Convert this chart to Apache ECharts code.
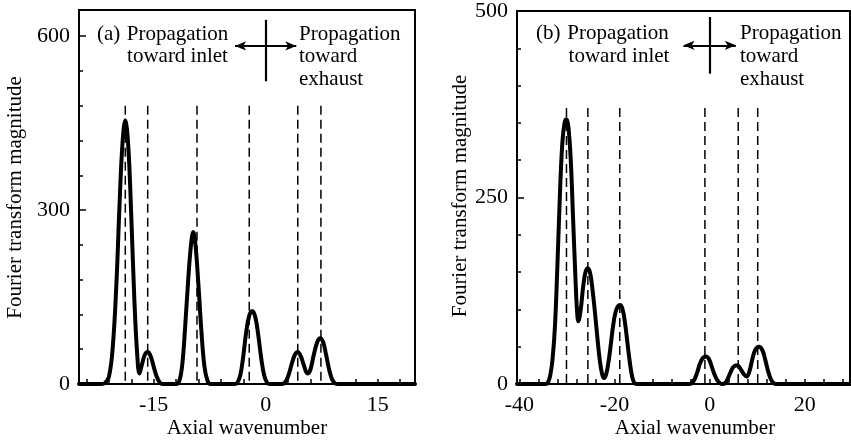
<!DOCTYPE html>
<html><head><meta charset="utf-8">
<script src="https://cdn.jsdelivr.net/npm/echarts@6/dist/echarts.min.js"></script>
<style>html,body{margin:0;padding:0;background:#fff}#c{width:851px;height:446px}</style>
</head><body><div id="c"></div>
<script>
// ---------- data ----------
const curveA = [
[-25,0],[-22,0],[-21.5,2],[-21,12],[-20.5,60],[-20,170],[-19.6,300],[-19.2,410],[-18.8,455],[-18.4,410],[-18,290],[-17.6,150],[-17.2,50],[-16.9,18],[-16.6,32],[-16.2,50],[-15.8,55],[-15.4,48],[-15,30],[-14.6,13],[-14.2,3],[-13.8,0],
[-12,0],[-11.6,4],[-11.2,30],[-10.8,95],[-10.4,175],[-10,240],[-9.7,262],[-9.4,240],[-9,170],[-8.6,90],[-8.2,30],[-7.8,6],[-7.4,0],
[-4.2,0],[-3.8,2],[-3.4,15],[-3,48],[-2.6,90],[-2.2,118],[-1.8,126],[-1.4,116],[-1,85],[-0.6,45],[-0.2,15],[0.2,2],[0.6,0],
[2.2,0],[2.6,3],[3,13],[3.5,35],[3.9,50],[4.3,55],[4.7,48],[5.1,33],[5.6,18],[6,25],[6.4,48],[6.9,72],[7.3,79],[7.7,72],[8.1,50],[8.5,25],[8.9,8],[9.3,1],[9.7,0],[20,0]
];
const curveB = [
[-40.5,0],[-34.5,0],[-34,2],[-33.5,12],[-33,35],[-32.5,80],[-32,160],[-31.5,250],[-31,320],[-30.5,350],[-30.1,355],[-29.7,345],[-29.2,300],[-28.7,220],[-28.2,140],[-27.9,100],[-27.6,84],[-27.1,100],[-26.6,130],[-26.1,150],[-25.6,155],[-25.1,148],[-24.6,125],[-24.1,95],[-23.6,62],[-23.1,32],[-22.6,13],[-22.2,8],[-21.8,12],[-21.3,28],[-20.8,52],[-20.3,78],[-19.8,96],[-19.3,104],[-18.8,106],[-18.3,100],[-17.8,82],[-17.3,56],[-16.8,30],[-16.3,10],[-15.8,1],[-15.3,0],
[-4.5,0],[-3.8,1],[-3.2,6],[-2.6,16],[-2,28],[-1.4,35],[-0.8,37],[-0.2,34],[0.4,24],[1,13],[1.6,5],[2.2,1],[2.7,0],
[3.2,1],[3.8,7],[4.4,16],[5,23],[5.8,25],[6.5,20],[7.2,13],[7.8,10],[8.4,18],[9,34],[9.6,46],[10.4,50],[11.1,45],[11.7,32],[12.3,17],[12.9,6],[13.5,1],[14,0],[29.5,0]
];
const dashA = [-18.8,-15.8,-9.2,-2.2,4.3,7.4];
const dashB = [-30.1,-25.6,-18.9,-1.0,6.0,10.1];
const dashTopA = 480;
const dashTopB = 370;

const xRangeA = [-25, 20];
const yRangeA = [0, 645];
const xRangeB = [-40.5, 29.5];
const yRangeB = [0, 500];

const xTicksA = [-24,-21,-18,-15,-12,-9,-6,-3,0,3,6,9,12,15,18];
const xLabelsA = [-15,0,15];
const yTicksA = [0,60,120,180,240,300,360,420,480,540,600];
const yLabelsA = [0,300,600];
const xTicksB = [-40,-36,-32,-28,-24,-20,-16,-12,-8,-4,0,4,8,12,16,20,24,28];
const xLabelsB = [-40,-20,0,20];
const yTicksB = [0,50,100,150,200,250,300,350,400,450,500];
const yLabelsB = [0,250,500];

// cross-arrow annotations (data coordinates)
const arrowA = {h:[-4.1,4.1], hy:583, vx:0, v:[628,522]};
const arrowB = {h:[-5.5,5.5], hy:454, vx:0, v:[492,416]};

const xTitle = 'Axial wavenumber';
const yTitle = 'Fourier transform magnitude';
const textA = {tag:'(a)', left:['Propagation','toward inlet'], right:['Propagation','toward','exhaust']};
const textB = {tag:'(b)', left:['Propagation','toward inlet'], right:['Propagation','toward','exhaust']};

// ---------- chart ----------
const FONT = '"Liberation Serif", "Times New Roman", serif';
const FS = 21;
const FS_TICK = 22;
const BLACK = '#000';
const gridA = {left:79, top:10, right:436, bottom:62};
const gridB = {left:517, top:9, right:1, bottom:62};
const W = 851;

function xAxisCfg(g, range, ticks, labels) {
  return {type:'value', gridIndex:g, min:range[0], max:range[1], position:'bottom',
    axisLine:{show:true, onZero:false, lineStyle:{color:BLACK, width:2}},
    axisTick:{show:true, inside:true, length:5, customValues:ticks, lineStyle:{color:BLACK, width:1.5}},
    axisLabel:{show:true, customValues:labels, margin:10, color:BLACK, fontFamily:FONT, fontSize:FS_TICK},
    splitLine:{show:false}};
}
function yMainCfg(g, range, ticks, labels) {
  return {type:'value', gridIndex:g, min:range[0], max:range[1], position:'left',
    axisLine:{show:true, onZero:false, lineStyle:{color:BLACK, width:2}},
    axisTick:{show:true, inside:true, length:4, customValues:ticks, lineStyle:{color:BLACK, width:1.5}},
    axisLabel:{show:true, customValues:labels, margin:9, color:BLACK, fontFamily:FONT, fontSize:FS_TICK},
    splitLine:{show:false}};
}
// longer ticks at labelled values: an overlay axis moved onto the left edge
function yMajorCfg(g, range, labels, grid) {
  const width = W - grid.left - grid.right;
  return {type:'value', gridIndex:g, min:range[0], max:range[1], position:'right', offset:-width,
    axisLine:{show:false, onZero:false},
    axisTick:{show:true, inside:false, length:7, customValues:labels, lineStyle:{color:BLACK, width:1.5}},
    axisLabel:{show:false}, splitLine:{show:false}};
}
function arrowMark(a) {
  return {silent:true, animation:false, symbol:['none','none'],
    lineStyle:{color:BLACK, width:2.2, type:'solid'}, label:{show:false}, emphasis:{disabled:true},
    data:[
      [{coord:[a.h[0], a.hy], symbol:'arrow', symbolSize:[7,11]}, {coord:[a.h[1], a.hy], symbol:'arrow', symbolSize:[7,11]}],
      [{coord:[a.vx, a.v[0]], symbol:'none'}, {coord:[a.vx, a.v[1]], symbol:'none'}]
    ]};
}
function curveSeries(data, xi, yi, arrow) {
  return {type:'line', xAxisIndex:xi, yAxisIndex:yi, data:data, smooth:0.4,
    showSymbol:false, symbol:'none', z:4,
    lineStyle:{color:BLACK, width:4, cap:'round', join:'round'},
    markLine: arrowMark(arrow)};
}
function dashSeries(xs, top, xi, yi) {
  return xs.map(x => ({type:'line', xAxisIndex:xi, yAxisIndex:yi, data:[[x, top],[x, 0]],
    showSymbol:false, symbol:'none', z:3,
    lineStyle:{color:BLACK, width:1.5, type:[9,5]}}));
}
function txt(x, y, s, align, rot) {
  return {type:'text', x:x, y:y, rotation:rot||0, silent:true,
    style:{text:s, fill:BLACK, font:FS + 'px ' + FONT, align:align||'left', verticalAlign:'middle'}};
}

const option = {
  animation:false,
  backgroundColor:'#fff',
  grid:[
    Object.assign({show:true, borderColor:BLACK, borderWidth:2}, gridA),
    Object.assign({show:true, borderColor:BLACK, borderWidth:2}, gridB)
  ],
  xAxis:[ xAxisCfg(0, xRangeA, xTicksA, xLabelsA), xAxisCfg(1, xRangeB, xTicksB, xLabelsB) ],
  yAxis:[ yMainCfg(0, yRangeA, yTicksA, yLabelsA), yMajorCfg(0, yRangeA, yLabelsA, gridA),
          yMainCfg(1, yRangeB, yTicksB, yLabelsB), yMajorCfg(1, yRangeB, yLabelsB, gridB) ],
  series:[
    curveSeries(curveA, 0, 0, arrowA),
    ...dashSeries(dashA, dashTopA, 0, 0),
    curveSeries(curveB, 1, 2, arrowB),
    ...dashSeries(dashB, dashTopB, 1, 2)
  ],
  graphic:[
    txt(247, 428, xTitle, 'center'),
    txt(695, 428, xTitle, 'center'),
    txt(15, 197.5, yTitle, 'center', Math.PI/2),
    txt(460, 196, yTitle, 'center', Math.PI/2),
    txt(97, 34.7, textA.tag, 'left'),
    txt(177.5, 34.7, textA.left[0], 'center'),
    txt(177.5, 56.3, textA.left[1], 'center'),
    txt(299, 34.7, textA.right[0], 'left'),
    txt(299, 56.3, textA.right[1], 'left'),
    txt(299, 79, textA.right[2], 'left'),
    txt(536, 33, textB.tag, 'left'),
    txt(618, 33, textB.left[0], 'center'),
    txt(619, 56.3, textB.left[1], 'center'),
    txt(740, 33, textB.right[0], 'left'),
    txt(740, 56.3, textB.right[1], 'left'),
    txt(740, 79.7, textB.right[2], 'left')
  ]
};
const chart = echarts.init(document.getElementById('c'));
chart.setOption(option);
</script>
</body></html>
